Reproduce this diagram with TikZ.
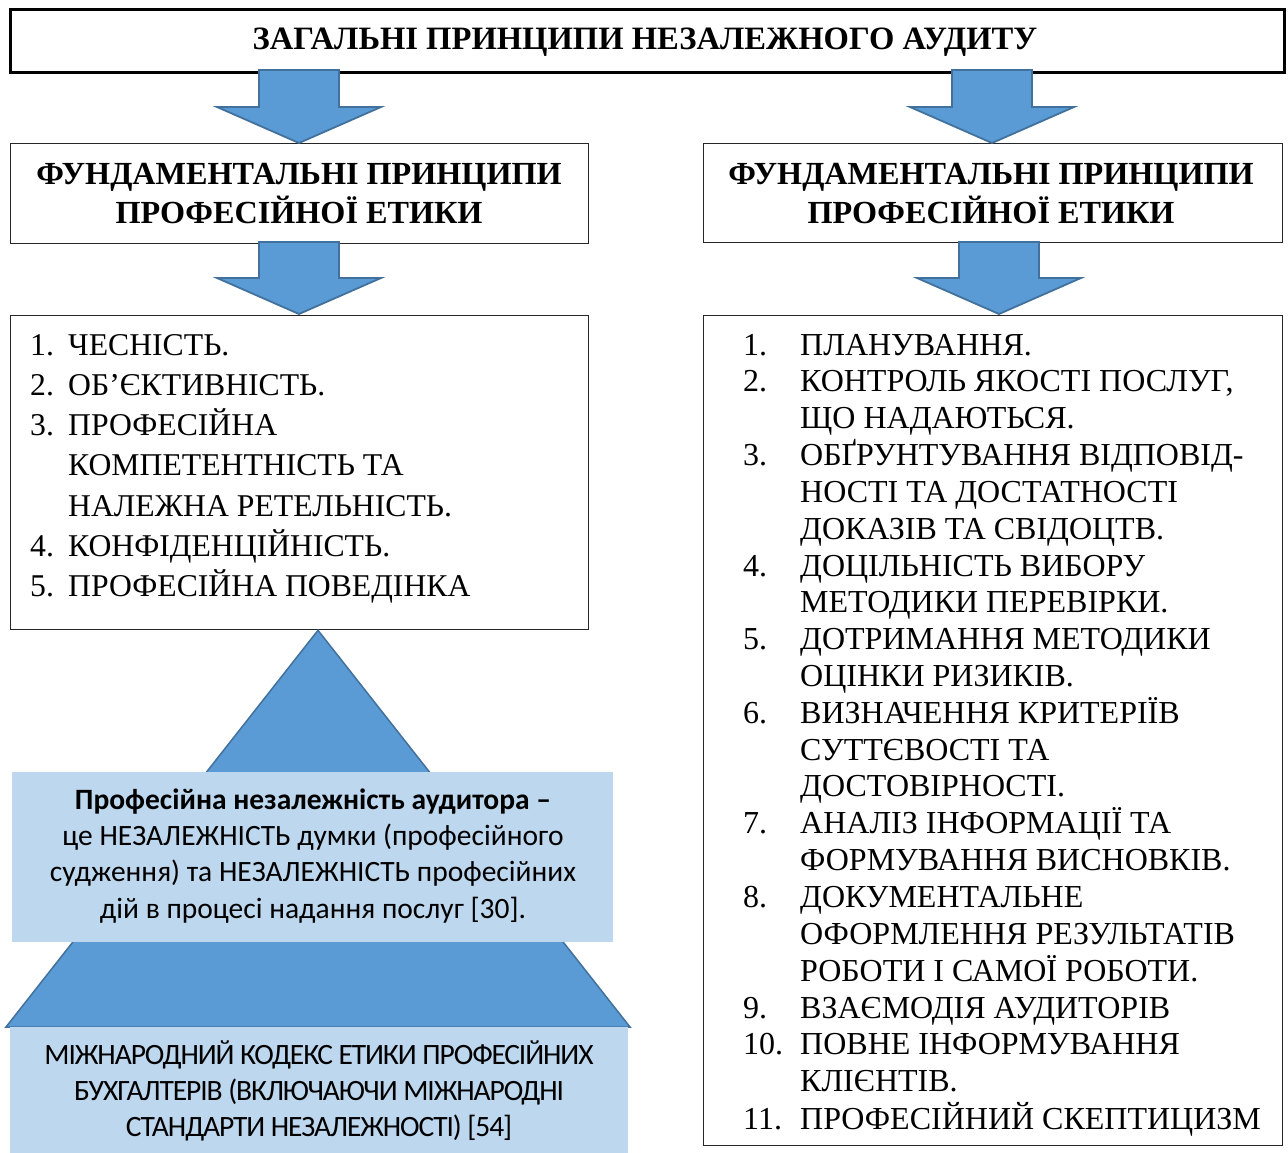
\documentclass[tikz,border=0pt]{standalone}
\usepackage{fontspec}
\setmainfont{Liberation Serif}
\newfontfamily\calibri{Carlito}
\newfontfamily\calibritight{Carlito}[LetterSpace=-3.7]
\definecolor{arrowblue}{HTML}{5B9BD5}
\definecolor{arrowedge}{HTML}{41719C}
\definecolor{lightblue}{HTML}{BDD7EE}
\newcommand{\bluearrow}[4]{% #1 centre x, #2 top y, #3 shoulder y, #4 tip y
  \filldraw[blockarrow] ({#1-40},#2) -- ({#1+40},#2) -- ({#1+40},#3) -- ({#1+82},#3)
    -- (#1,#4) -- ({#1-82},#3) -- ({#1-40},#3) -- cycle;}
\newcommand{\numb}[1]{\makebox[38pt][l]{#1}}
\newcommand{\numr}[1]{\makebox[57pt][l]{#1}}
\begin{document}
\begin{tikzpicture}[x=1pt,y=-1pt,
  framebox/.style={draw=black!85, line width=1.3pt, fill=white, inner sep=0pt, anchor=north west},
  titlebox/.style={draw=black, line width=3pt, fill=white, inner sep=0pt, anchor=north west},
  blockarrow/.style={fill=arrowblue, draw=arrowedge, line width=1.8pt, line join=miter},
  txt/.style={inner sep=0pt, anchor=base},
  listtxt/.style={inner sep=0pt, anchor=base west}]
\useasboundingbox (0,0) rectangle (1288,1153);
\fill[white] (0,0) rectangle (1288,1153);

% boxes
\node[titlebox, minimum width=1274pt, minimum height=63pt] (title) at (9,8) {};
\node[framebox, minimum width=578pt, minimum height=100pt] (subL) at (10,143) {};
\node[framebox, minimum width=579pt, minimum height=99pt] (subR) at (703,143) {};
\node[framebox, minimum width=578pt, minimum height=314pt] (listL) at (10,315) {};
\node[framebox, minimum width=579pt, minimum height=830pt] (listR) at (703,315) {};

% pyramid
\filldraw[fill=arrowblue, draw=arrowedge, line width=1.5pt, line join=miter]
  (listL.south -| 318,0) -- (630,1027) -- (6,1027) -- cycle;
\node[fill=lightblue, inner sep=0pt, anchor=north west, minimum width=601pt, minimum height=170pt] (defbox) at (12,772) {};
\node[fill=lightblue, inner sep=0pt, anchor=north west, minimum width=618pt, minimum height=127pt] (codebox) at (10,1027) {};

% arrows
\bluearrow{299}{70}{107}{143}
\bluearrow{299}{242}{278}{314}
\bluearrow{992}{70}{107}{143}
\bluearrow{999}{242}{278}{314}

% texts
\node[txt] (titletext) at (645,50) {\fontsize{32.6}{38}\selectfont\bfseries ЗАГАЛЬНІ ПРИНЦИПИ НЕЗАЛЕЖНОГО АУДИТУ};

\node[txt] (subLtext) at (299,185) {\fontsize{32.2}{38}\selectfont\bfseries
  \begin{tabular}[t]{@{}c@{}}ФУНДАМЕНТАЛЬНІ ПРИНЦИПИ\\ ПРОФЕСІЙНОЇ ЕТИКИ\end{tabular}};
\node[txt] (subRtext) at (991,185) {\fontsize{32.2}{38}\selectfont\bfseries
  \begin{tabular}[t]{@{}c@{}}ФУНДАМЕНТАЛЬНІ ПРИНЦИПИ\\ ПРОФЕСІЙНОЇ ЕТИКИ\end{tabular}};

\node[listtxt] (listLtext) at (30,355) {\fontsize{31.7}{40.3}\selectfont
  \begin{tabular}[t]{@{}l@{}}
  \numb{1.}ЧЕСНІСТЬ.\\
  \numb{2.}ОБ’ЄКТИВНІСТЬ.\\
  \numb{3.}ПРОФЕСІЙНА\\
  \numb{}КОМПЕТЕНТНІСТЬ ТА\\
  \numb{}НАЛЕЖНА РЕТЕЛЬНІСТЬ.\\
  \numb{4.}КОНФІДЕНЦІЙНІСТЬ.\\
  \numb{5.}ПРОФЕСІЙНА ПОВЕДІНКА
  \end{tabular}};

\node[listtxt] (listRtext) at (743,355) {\fontsize{32}{36.76}\selectfont
  \begin{tabular}[t]{@{}l@{}}
  \numr{1.}ПЛАНУВАННЯ.\\
  \numr{2.}КОНТРОЛЬ ЯКОСТІ ПОСЛУГ,\\
  \numr{}ЩО НАДАЮТЬСЯ.\\
  \numr{3.}ОБҐРУНТУВАННЯ ВІДПОВІД-\\
  \numr{}НОСТІ ТА ДОСТАТНОСТІ\\
  \numr{}ДОКАЗІВ ТА СВІДОЦТВ.\\
  \numr{4.}ДОЦІЛЬНІСТЬ ВИБОРУ\\
  \numr{}МЕТОДИКИ ПЕРЕВІРКИ.\\
  \numr{5.}ДОТРИМАННЯ МЕТОДИКИ\\
  \numr{}ОЦІНКИ РИЗИКІВ.\\
  \numr{6.}ВИЗНАЧЕННЯ КРИТЕРІЇВ\\
  \numr{}СУТТЄВОСТІ ТА\\
  \numr{}ДОСТОВІРНОСТІ.\\
  \numr{7.}АНАЛІЗ ІНФОРМАЦІЇ ТА\\
  \numr{}ФОРМУВАННЯ ВИСНОВКІВ.\\
  \numr{8.}ДОКУМЕНТАЛЬНЕ\\
  \numr{}ОФОРМЛЕННЯ РЕЗУЛЬТАТІВ\\
  \numr{}РОБОТИ І САМОЇ РОБОТИ.\\
  \numr{9.}ВЗАЄМОДІЯ АУДИТОРІВ\\
  \numr{10.}ПОВНЕ ІНФОРМУВАННЯ\\
  \numr{}КЛІЄНТІВ.\\
  \numr{11.}ПРОФЕСІЙНИЙ СКЕПТИЦИЗМ
  \end{tabular}};

\node[txt] (deftext) at (313,809) {\calibri\fontsize{29.5}{36.4}\selectfont
  \begin{tabular}[t]{@{}c@{}}\textbf{Професійна незалежність аудитора –}\\
  це НЕЗАЛЕЖНІСТЬ думки (професійного\\
  судження) та НЕЗАЛЕЖНІСТЬ професійних\\
  дій в процесі надання послуг [30].\end{tabular}};

\node[txt] (codetext) at (319,1064) {\calibritight\fontsize{29.5}{36.4}\selectfont
  \begin{tabular}[t]{@{}c@{}}МІЖНАРОДНИЙ КОДЕКС ЕТИКИ ПРОФЕСІЙНИХ\\
  БУХГАЛТЕРІВ (ВКЛЮЧАЮЧИ МІЖНАРОДНІ\\
  СТАНДАРТИ НЕЗАЛЕЖНОСТІ) [54]\end{tabular}};
\end{tikzpicture}
\end{document}
